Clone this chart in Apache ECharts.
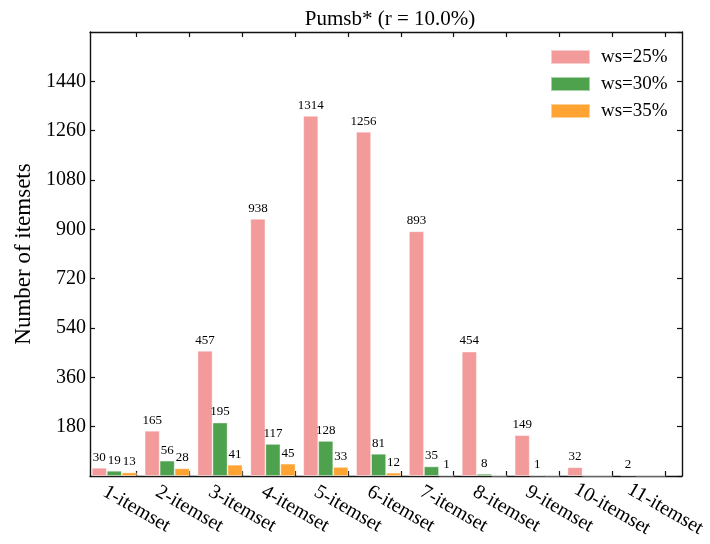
<!DOCTYPE html>
<html>
<head>
<meta charset="utf-8">
<script src="https://cdn.jsdelivr.net/npm/echarts@6/dist/echarts.min.js"></script>
<style>
  html, body { margin: 0; padding: 0; background: #fff; }
  #chart { width: 710px; height: 544px; }
</style>
</head>
<body>
<div id="chart"></div>
<script>
// Itemset sizes along the x axis
const categories = ['1-itemset', '2-itemset', '3-itemset', '4-itemset', '5-itemset', '6-itemset',
                    '7-itemset', '8-itemset', '9-itemset', '10-itemset', '11-itemset'];
const positions = [1, 2, 3, 4, 5, 6, 7, 8, 9, 10, 11];

// Number of itemsets per window size
const ws25 = [30, 165, 457, 938, 1314, 1256, 893, 454, 149, 32, 2];
const ws30 = [19, 56, 195, 117, 128, 81, 35, 8, 1, 0, 0];
const ws35 = [13, 28, 41, 45, 33, 12, 1, 0, 0, 0, 0];

const seriesNames = ['ws=25%', 'ws=30%', 'ws=35%'];
const colors = ['#F39A9A', '#4EA24E', '#FFA333'];

const FONT = '"Liberation Serif", "Times New Roman", serif';
// Bar groups sit just left of each tick mark
const GROUP_SHIFT = 0.42;

const chart = echarts.init(document.getElementById('chart'), null, { renderer: 'canvas' });

function barSeries(name, values, color) {
  return {
    name: name,
    type: 'bar',
    barWidth: 15,
    barGap: '0%',
    data: values.map((v, i) => [positions[i] - GROUP_SHIFT, v]),
    itemStyle: { color: color, borderColor: 'rgba(255,255,255,0.5)', borderWidth: 0.8 },
    label: {
      show: true,
      position: 'top',
      distance: 4,
      color: '#000',
      fontFamily: FONT,
      fontSize: 13,
      formatter: p => (p.value[1] > 0 ? String(p.value[1]) : '')
    }
  };
}

const axisLine = { show: true, onZero: false, lineStyle: { color: '#111', width: 1.4 } };
const tickStyle = { show: true, inside: true, length: 5, lineStyle: { color: '#111', width: 1.2 } };

chart.setOption({
  animation: false,
  title: {
    text: 'Pumsb* (r = 10.0%)',
    left: 385,
    top: 4,
    textAlign: 'center',
    textStyle: { fontFamily: FONT, fontSize: 21, fontWeight: 'normal', color: '#000' }
  },
  legend: {
    orient: 'vertical',
    left: 545,
    top: 42,
    itemWidth: 39,
    itemHeight: 14,
    itemGap: 7,
    icon: 'rect',
    data: seriesNames,
    textStyle: { fontFamily: FONT, fontSize: 19, color: '#000', lineHeight: 20, padding: [0, 0, 0, 6] }
  },
  grid: { left: 90, right: 28, top: 32, bottom: 68, containLabel: false },
  xAxis: [
    {
      type: 'value',
      position: 'bottom',
      min: 0.12,
      max: 11.32,
      splitLine: { show: false },
      axisLine: axisLine,
      axisTick: Object.assign({}, tickStyle, { customValues: positions }),
      axisLabel: {
        customValues: positions,
        formatter: v => categories[Math.round(v) - 1],
        rotate: -30,
        align: 'center',
        verticalAlign: 'middle',
        margin: 33,
        fontFamily: FONT,
        fontSize: 20,
        color: '#000'
      }
    },
    {
      type: 'value',
      position: 'top',
      min: 0.12,
      max: 11.32,
      splitLine: { show: false },
      axisLine: axisLine,
      axisTick: Object.assign({}, tickStyle, { customValues: positions }),
      axisLabel: { show: false }
    }
  ],
  yAxis: [
    {
      type: 'value',
      position: 'left',
      min: 0,
      max: 1620,
      interval: 180,
      name: 'Number of itemsets',
      nameLocation: 'middle',
      nameGap: 52,
      nameTextStyle: { fontFamily: FONT, fontSize: 23, color: '#000' },
      splitLine: { show: false },
      axisLine: axisLine,
      axisTick: tickStyle,
      axisLabel: {
        showMinLabel: false,
        showMaxLabel: false,
        margin: 4,
        formatter: v => String(v),
        fontFamily: FONT,
        fontSize: 20,
        color: '#000'
      }
    },
    {
      type: 'value',
      position: 'right',
      min: 0,
      max: 1620,
      interval: 180,
      splitLine: { show: false },
      axisLine: axisLine,
      axisTick: tickStyle,
      axisLabel: { show: false }
    }
  ],
  series: [
    barSeries(seriesNames[0], ws25, colors[0]),
    barSeries(seriesNames[1], ws30, colors[1]),
    barSeries(seriesNames[2], ws35, colors[2])
  ]
});
</script>
</body>
</html>
